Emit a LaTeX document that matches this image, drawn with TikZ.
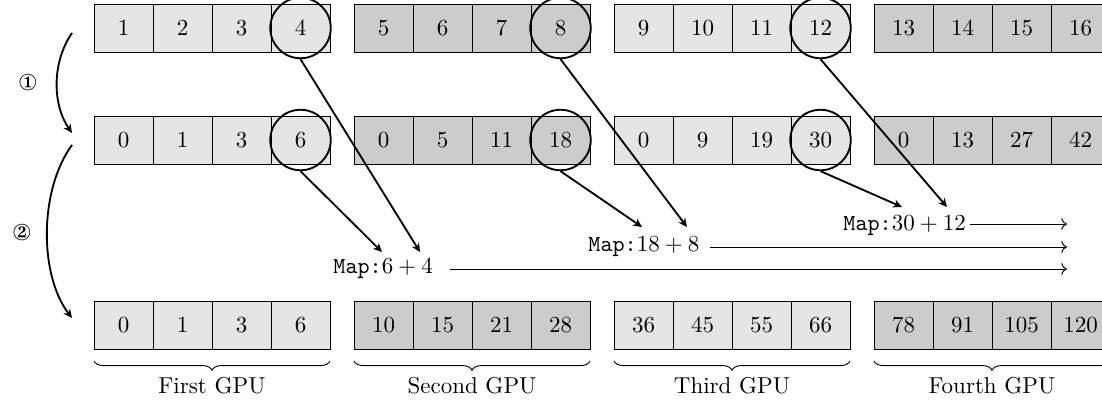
\documentclass[tikz,border=0pt]{standalone}
\usepackage{pifont}
\usetikzlibrary{decorations.pathreplacing,arrows.meta}
\tikzset{
  cellL/.style={draw=black,line width=0.4pt,fill=gray!20,minimum width=25.65pt,minimum height=20.87pt,inner sep=0pt,outer sep=0pt},
  cellD/.style={cellL,fill=gray!40},
  ring/.style={draw=black,thick,circle,minimum size=26.3pt,inner sep=0pt},
  diagarrow/.style={thick,-{Stealth[length=3.8pt,width=3.6pt,inset=1.2pt]}},
  flowarrow/.style={line width=0.4pt,->},
  stagearrow/.style={thick,-{Stealth[length=3.8pt,width=3.6pt,inset=1.2pt]}},
  maplabel/.style={anchor=base west,inner sep=0pt},
  gpubrace/.style={decorate,decoration={brace,mirror,amplitude=4pt},line width=0.4pt},
}
\begin{document}
\begin{tikzpicture}[x=0.4348pt,y=-0.4348pt]
\useasboundingbox (0,0) rectangle (1102,406);
% top row
\foreach \g/\st in {0/cellL,1/cellD,2/cellL,3/cellD}{
  \foreach \i in {0,1,2,3}{
    \pgfmathsetmacro{\cx}{94+260*\g+29.5+59*\i}
    \pgfmathtruncatemacro{\va}{\g*4+\i+1}
    \node[\st] (t\g\i) at (\cx,28) {$\va$};
  }
}
% middle row
\foreach \g/\st/\a/\b/\c/\d in {0/cellL/0/1/3/6,1/cellD/0/5/11/18,2/cellL/0/9/19/30,3/cellD/0/13/27/42}{
  \foreach \i/\v in {0/\a,1/\b,2/\c,3/\d}{
    \pgfmathsetmacro{\cx}{94+260*\g+29.5+59*\i}
    \node[\st] (m\g\i) at (\cx,140) {$\v$};
  }
}
% bottom row
\foreach \g/\st/\a/\b/\c/\d in {0/cellL/0/1/3/6,1/cellD/10/15/21/28,2/cellL/36/45/55/66,3/cellD/78/91/105/120}{
  \foreach \i/\v in {0/\a,1/\b,2/\c,3/\d}{
    \pgfmathsetmacro{\cx}{94+260*\g+29.5+59*\i}
    \node[\st] (b\g\i) at (\cx,325.5) {$\v$};
  }
}
% rings
\foreach \g in {0,1,2}{
  \node[ring] (ct\g) at (t\g3) {};
  \node[ring] (cm\g) at (m\g3) {};
}
% map labels
\node[maplabel] (lab0) at (333,273) {\texttt{Map:}$6+4$};
\node[maplabel] (lab1) at (588,251.7) {\texttt{Map:}$18+8$};
\node[maplabel] (lab2) at (843,230.7) {\texttt{Map:}$30+12$};
\coordinate (p0a) at (382,252);
\coordinate (p0b) at (420,252);
\coordinate (p1a) at (642,227);
\coordinate (p1b) at (687,227);
\coordinate (p2a) at (902,207);
\coordinate (p2b) at (947,207);
\foreach \g in {0,1,2}{
  \draw[diagarrow] (cm\g.south) -- (p\g a);
  \draw[diagarrow] (ct\g.south) -- (p\g b);
}
% horizontal flows
\coordinate (h0s) at (450,269);
\coordinate (h0e) at (1067,269);
\coordinate (h1s) at (710,247);
\coordinate (h1e) at (1067,247);
\coordinate (h2s) at (970,224);
\coordinate (h2e) at (1067,224);
\foreach \g in {0,1,2}{
  \draw[flowarrow] (h\g s) -- (h\g e);
}
% stage arrows
\coordinate (s1a) at (72,33);
\coordinate (s1b) at (72,133);
\coordinate (s2a) at (72,145);
\coordinate (s2b) at (72,318);
\draw[stagearrow] (s1a) .. controls (52,62) and (52,104) .. (s1b);
\draw[stagearrow] (s2a) .. controls (39,190) and (39,275) .. (s2b);
\node (n1) at (28,83) {\ding{172}};
\node (n2) at (22,233) {\ding{173}};
% braces
\foreach \g/\name in {0/First GPU,1/Second GPU,2/Third GPU,3/Fourth GPU}{
  \coordinate (bl\g) at (94+260*\g,361);
  \coordinate (br\g) at (94+260*\g+236,361);
  \draw[gpubrace] (bl\g) -- (br\g);
  \node (g\g) at (94+260*\g+118,386) {\name};
}
\end{tikzpicture}
\end{document}
